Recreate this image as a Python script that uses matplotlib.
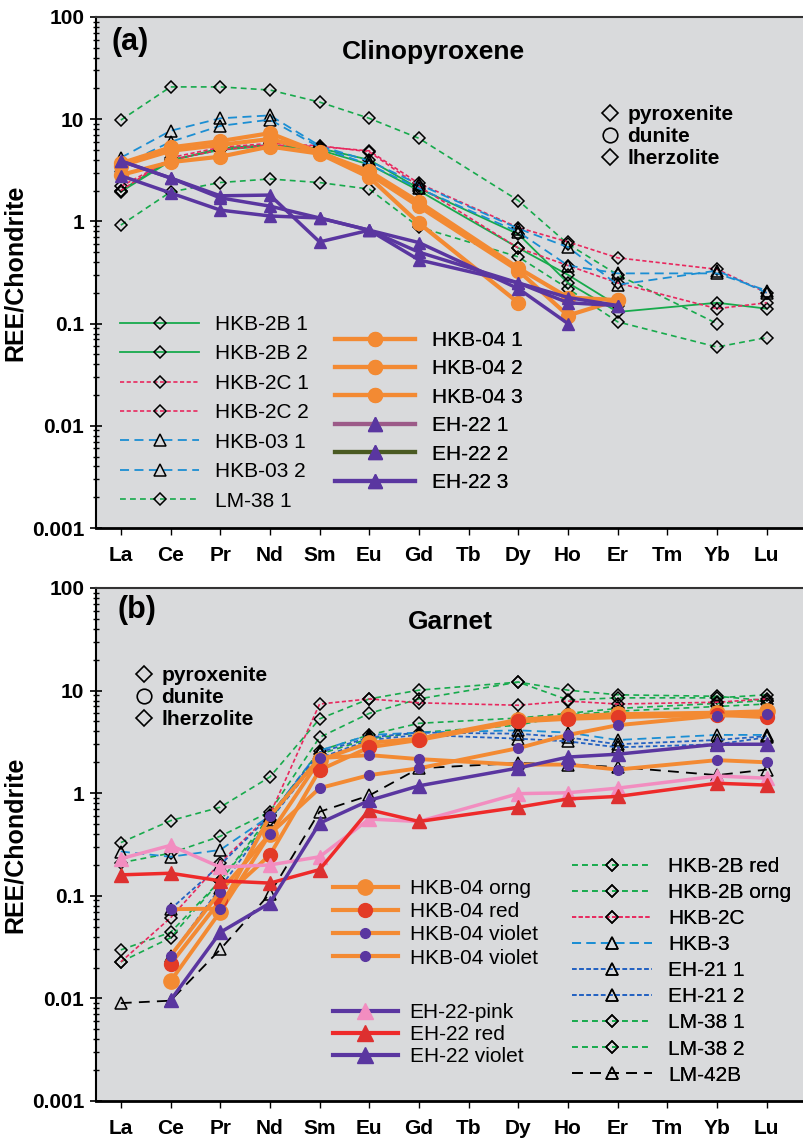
import matplotlib
matplotlib.use('Agg')
import matplotlib.pyplot as plt
from matplotlib.lines import Line2D
from matplotlib.ticker import LogLocator, NullFormatter

plt.rcParams['font.family'] = ['Liberation Sans', 'DejaVu Sans']

N = None
elements = ['La', 'Ce', 'Pr', 'Nd', 'Sm', 'Eu', 'Gd', 'Tb', 'Dy', 'Ho', 'Er', 'Tm', 'Yb', 'Lu']
ytick_vals = [0.001, 0.01, 0.1, 1, 10, 100]
ytick_labels = ['0.001', '0.01', '0.1', '1', '10', '100']
rock_types = ['pyroxenite', 'dunite', 'lherzolite']

# (a) clinopyroxene, chondrite normalised
cpx_hkb2b_1 = [2.0, 4.0, 5.0, 5.5, 5.2, 4.0, 2.1, N, 0.75, 0.25, 0.13, N, 0.16, 0.14]
cpx_hkb2b_2 = [1.95, 3.9, 5.2, 5.6, 5.0, 3.6, 2.0, N, 0.55, 0.3, 0.15, N, N, N]
cpx_hkb2c_1 = [2.2, 4.0, 5.0, 5.6, 5.4, 4.9, 2.35, N, 0.87, 0.63, 0.44, N, 0.34, 0.2]
cpx_hkb2c_2 = [2.0, 4.2, 5.3, 5.8, 5.5, 4.8, 2.2, N, 0.55, 0.37, 0.25, N, 0.14, 0.16]
cpx_hkb03_1 = [4.2, 7.7, 10.2, 10.9, 5.5, 3.9, 2.3, N, 0.85, 0.56, 0.24, N, 0.33, 0.2]
cpx_hkb03_2 = [3.5, 6.0, 8.6, 9.9, 5.3, 3.6, 2.1, N, 0.79, 0.37, 0.31, N, 0.31, 0.21]
cpx_lm38_1 = [9.8, 20.7, 20.7, 19.3, 14.7, 10.2, 6.5, N, 1.6, 0.6, 0.3, N, 0.1, N]
cpx_lm38_2 = [0.92, 1.94, 2.4, 2.6, 2.4, 2.07, 0.88, N, 0.45, 0.22, 0.104, N, 0.059, 0.073]
cpx_hkb04_1 = [3.7, 5.3, 6.1, 7.3, 4.7, 3.1, 1.55, N, 0.35, 0.18, 0.17, N, N, N]
cpx_hkb04_2 = [3.5, 4.9, 5.6, 6.4, 4.8, 2.9, 1.4, N, 0.33, 0.12, 0.17, N, N, N]
cpx_hkb04_3 = [2.85, 3.8, 4.3, 5.4, 4.6, 2.7, 0.96, N, 0.16, N, N, N, N, N]
cpx_eh22_1 = [3.9, 2.66, 1.78, 1.81, 0.63, 0.82, 0.5, N, 0.25, 0.18, 0.15, N, N, N]
cpx_eh22_2 = [3.9, 2.66, 1.7, 1.41, 1.08, 0.82, 0.62, N, 0.22, 0.1, N, N, N, N]
cpx_eh22_3 = [2.8, 1.9, 1.29, 1.13, 1.08, 0.82, 0.42, N, 0.25, 0.16, 0.15, N, N, N]

# (b) garnet, chondrite normalised
grt_hkb04_orng = [N, 0.0147, 0.07, 0.4, 2.1, 3.1, 3.4, N, 5.2, 5.6, 5.9, N, 6.1, 6.3]
grt_hkb04_red = [N, 0.0216, 0.09, 0.25, 1.68, 2.8, 3.3, N, 5.0, 5.3, 5.5, N, 5.8, 5.5]
grt_hkb04_vio1 = [N, 0.074, 0.075, 0.6, 2.2, 2.35, 2.15, N, 1.9, 1.9, 1.7, N, 2.1, 2.0]
grt_hkb04_vio2 = [N, 0.026, 0.11, 0.4, 1.12, 1.5, 1.75, N, 2.75, 3.7, 4.6, N, 5.7, 5.9]
grt_eh22_pink = [0.23, 0.31, 0.19, 0.2, 0.24, 0.56, 0.53, N, 0.99, 1.01, 1.12, N, 1.47, 1.4]
grt_eh22_red = [0.16, 0.166, 0.14, 0.133, 0.18, 0.69, 0.53, N, 0.73, 0.88, 0.93, N, 1.25, 1.2]
grt_eh22_violet = [N, 0.0096, 0.044, 0.085, 0.51, 0.85, 1.18, N, 1.76, 2.25, 2.4, N, 3.0, 3.0]
grt_hkb2b_red = [0.33, 0.54, 0.73, 1.44, 5.3, 8.3, 10.1, N, 12.1, 10.1, 9.1, N, 8.8, 8.0]
grt_hkb2b_orng = [0.21, 0.26, 0.38, 0.66, 3.5, 6.0, 8.3, N, 12.1, 8.1, 8.5, N, 8.5, 9.1]
grt_hkb2c = [0.0227, 0.061, 0.21, 0.62, 7.4, 8.3, 7.6, N, 7.2, 7.9, 7.4, N, 7.7, 8.3]
grt_hkb3 = [0.27, 0.24, 0.28, 0.6, 2.6, 3.7, 3.9, N, 4.1, 3.9, 3.3, N, 3.7, 3.7]
grt_eh21_1 = [N, 0.074, 0.2, 0.6, 2.5, 3.5, 3.9, N, 3.8, 3.5, 3.0, N, 3.3, 3.6]
grt_eh21_2 = [N, 0.026, 0.12, 0.55, 2.2, 3.3, 3.7, N, 3.4, 3.2, 2.8, N, 3.0, 3.5]
grt_lm38_1 = [0.0297, 0.044, 0.14, 0.6, 2.6, 3.7, 4.8, N, 5.4, 6.0, 6.7, N, 7.5, 8.0]
grt_lm38_2 = [0.0227, 0.039, 0.14, 0.55, 2.4, 3.4, 3.9, N, 4.6, 5.8, 6.3, N, 7.0, 7.4]
grt_lm42b = [0.009, 0.0095, 0.03, 0.105, 0.66, 0.95, 1.75, N, 1.97, 1.9, 1.8, N, 1.5, 1.7]

GREEN = '#17aa4c'
CRIMSON = '#e8285e'
BLUE = '#1b8ed3'
DBLUE = '#2462c2'
ORANGE = '#f38a33'
PURPLE = '#5a36a0'
PINK = '#f28dc0'
RED = '#ee2a2a'
BG = '#d9dadc'

diamond = dict(marker='D', markersize=6.5, markerfacecolor='none', markeredgecolor='k', markeredgewidth=1.1)
triangle = dict(marker='^', markersize=8.5, markerfacecolor='none', markeredgecolor='k', markeredgewidth=1.1)


def draw(ax, vals, **kw):
    xs = [i for i, v in enumerate(vals) if v is not None]
    ys = [v for v in vals if v is not None]
    ax.plot(xs, ys, **kw)


def style_axes(ax):
    ax.set_facecolor(BG)
    ax.set_yscale('log')
    ax.set_ylim(0.001, 100)
    ax.set_xlim(-0.5, 13.75)
    ax.set_xticks(range(len(elements)))
    ax.set_xticklabels(elements, fontsize=15, fontweight='bold')
    ax.set_yticks(ytick_vals)
    ax.set_yticklabels(ytick_labels, fontsize=15, fontweight='bold')
    ax.yaxis.set_minor_locator(LogLocator(base=10, subs=range(2, 10)))
    ax.yaxis.set_minor_formatter(NullFormatter())
    ax.tick_params(axis='y', which='major', direction='inout', length=9, width=1.2, pad=4)
    ax.tick_params(axis='y', which='minor', direction='inout', length=5, width=1)
    ax.tick_params(axis='x', direction='out', length=5, width=1, pad=8)
    ax.spines['right'].set_visible(False)
    ax.spines['left'].set_linewidth(1.5)
    ax.spines['bottom'].set_linewidth(2)
    ax.spines['top'].set_linewidth(1.5)
    ax.spines['top'].set_color('#333333')
    ax.set_ylabel('REE/Chondrite', fontsize=18, fontweight='bold')
    ax.yaxis.set_label_coords(-0.098, 0.5)


def put_legend(ax, fig, handles, labels, x_px, y_px, hl, htp, ls, bold=False):
    leg = ax.legend(handles, labels, loc='upper left', bbox_to_anchor=(x_px / 804, 1 - y_px / 1140),
                    bbox_transform=fig.transFigure, frameon=False, numpoints=1,
                    prop={'size': 15, 'weight': 'bold' if bold else 'normal'},
                    handlelength=hl, handletextpad=htp, labelspacing=ls, borderpad=0, borderaxespad=0)
    ax.add_artist(leg)


def rock_key(ax, fig, x_px, y_px):
    # open symbol key for the rock types (diamond / circle / diamond)
    handles = [Line2D([], [], linestyle='none', marker='D', markersize=8.5, markerfacecolor='none',
                      markeredgecolor='k', markeredgewidth=1.2),
               Line2D([], [], linestyle='none', marker='o', markersize=10.5, markerfacecolor='none',
                      markeredgecolor='k', markeredgewidth=1.2),
               Line2D([], [], linestyle='none', marker='D', markersize=8.5, markerfacecolor='none',
                      markeredgecolor='k', markeredgewidth=1.2)]
    put_legend(ax, fig, handles, rock_types, x_px, y_px, 1.0, 0.3, 0.14, bold=True)


fig = plt.figure(figsize=(8.04, 11.4), dpi=100)
ax1 = fig.add_axes([96 / 804, 1 - 528 / 1140, 708 / 804, 511 / 1140])
ax2 = fig.add_axes([96 / 804, 1 - 1101 / 1140, 708 / 804, 513 / 1140])

# ---- panel (a)
dash_g = dict(linestyle='--', dashes=(3.5, 2.5), linewidth=1.2)
dash_r = dict(linestyle='--', dashes=(2.5, 1.5), linewidth=1.2)
dash_b = dict(linestyle='--', dashes=(5, 3), linewidth=1.3)

draw(ax1, cpx_lm38_1, color=GREEN, **dash_g, **diamond)
draw(ax1, cpx_lm38_2, color=GREEN, **dash_g, **diamond)
draw(ax1, cpx_hkb2b_1, color=GREEN, linewidth=1.3, **diamond)
draw(ax1, cpx_hkb2b_2, color=GREEN, linewidth=1.3, **diamond)
draw(ax1, cpx_hkb2c_1, color=CRIMSON, **dash_r, **diamond)
draw(ax1, cpx_hkb2c_2, color=CRIMSON, **dash_r, **diamond)
draw(ax1, cpx_hkb03_1, color=BLUE, **dash_b, **triangle)
draw(ax1, cpx_hkb03_2, color=BLUE, **dash_b, **triangle)
for vals in [cpx_hkb04_1, cpx_hkb04_2, cpx_hkb04_3]:
    draw(ax1, vals, color=ORANGE, linewidth=3, marker='o', markersize=10, zorder=4)
for vals in [cpx_eh22_1, cpx_eh22_2, cpx_eh22_3]:
    draw(ax1, vals, color=PURPLE, linewidth=2.5, marker='^', markersize=9, zorder=5)

style_axes(ax1)
ax1.text(0.022, 0.951, '(a)', transform=ax1.transAxes, fontsize=22, fontweight='bold', va='center')
ax1.text(0.476, 0.931, 'Clinopyroxene', transform=ax1.transAxes, fontsize=19, fontweight='bold',
         ha='center', va='center')
rock_key(ax1, fig, 600, 105)

hA = [Line2D([], [], color=GREEN, linewidth=1.3, **diamond),
      Line2D([], [], color=GREEN, linewidth=1.3, **diamond),
      Line2D([], [], color=CRIMSON, **dash_r, **diamond),
      Line2D([], [], color=CRIMSON, **dash_r, **diamond),
      Line2D([], [], color=BLUE, **dash_b, **triangle),
      Line2D([], [], color=BLUE, **dash_b, **triangle),
      Line2D([], [], color=GREEN, **dash_g, **diamond)]
lA = ['HKB-2B 1', 'HKB-2B 2', 'HKB-2C 1', 'HKB-2C 2', 'HKB-03 1', 'HKB-03 2', 'LM-38 1']
put_legend(ax1, fig, hA, lA, 120, 315, 3.8, 0.75, 0.5)

hA2 = [Line2D([], [], color=ORANGE, linewidth=3, marker='o', markersize=10),
       Line2D([], [], color=ORANGE, linewidth=3, marker='o', markersize=10),
       Line2D([], [], color=ORANGE, linewidth=3, marker='o', markersize=10),
       Line2D([], [], color='#9c5a88', linewidth=3, marker='^', markersize=10, markerfacecolor=PURPLE, markeredgecolor=PURPLE),
       Line2D([], [], color='#4a5a22', linewidth=3, marker='^', markersize=10, markerfacecolor=PURPLE, markeredgecolor=PURPLE),
       Line2D([], [], color=PURPLE, linewidth=3, marker='^', markersize=10)]
lA2 = ['HKB-04 1', 'HKB-04 2', 'HKB-04 3', 'EH-22 1', 'EH-22 2', 'EH-22 3']
put_legend(ax1, fig, hA2, lA2, 335, 331, 3.85, 0.8, 0.45)

# ---- panel (b)
dash_g2 = dict(linestyle='--', dashes=(3.5, 2.5), linewidth=1.2)
dash_db = dict(linestyle='--', dashes=(2.5, 1.5), linewidth=1.3)
dash_k = dict(linestyle='--', dashes=(6, 4), linewidth=1.3)

draw(ax2, grt_hkb2b_red, color=GREEN, **dash_g2, **diamond)
draw(ax2, grt_hkb2b_orng, color=GREEN, **dash_g2, **diamond)
draw(ax2, grt_lm38_1, color=GREEN, **dash_g2, **diamond)
draw(ax2, grt_lm38_2, color=GREEN, **dash_g2, **diamond)
draw(ax2, grt_hkb2c, color=CRIMSON, **dash_r, **diamond)
draw(ax2, grt_hkb3, color=BLUE, **dash_b, **triangle)
draw(ax2, grt_eh21_1, color=DBLUE, **dash_db, **triangle)
draw(ax2, grt_eh21_2, color=DBLUE, **dash_db, **triangle)
draw(ax2, grt_lm42b, color='k', **dash_k, **triangle)
draw(ax2, grt_hkb04_orng, color=ORANGE, linewidth=2.8, marker='o', markersize=11, zorder=4)
draw(ax2, grt_hkb04_red, color=ORANGE, linewidth=2.8, marker='o', markersize=10,
     markerfacecolor='#e33b26', markeredgecolor='#e33b26', zorder=4)
draw(ax2, grt_hkb04_vio1, color=ORANGE, linewidth=2.8, marker='o', markersize=7,
     markerfacecolor=PURPLE, markeredgecolor=PURPLE, zorder=4)
draw(ax2, grt_hkb04_vio2, color=ORANGE, linewidth=2.8, marker='o', markersize=7,
     markerfacecolor=PURPLE, markeredgecolor=PURPLE, zorder=4)
draw(ax2, grt_eh22_pink, color=PINK, linewidth=2.5, marker='^', markersize=10, zorder=5)
draw(ax2, grt_eh22_red, color=RED, linewidth=2.5, marker='^', markersize=10,
     markerfacecolor='#dd3030', markeredgecolor='#dd3030', zorder=5)
draw(ax2, grt_eh22_violet, color=PURPLE, linewidth=2.5, marker='^', markersize=10, zorder=5)

style_axes(ax2)
ax2.text(0.031, 0.957, '(b)', transform=ax2.transAxes, fontsize=22, fontweight='bold', va='center')
ax2.text(0.501, 0.934, 'Garnet', transform=ax2.transAxes, fontsize=19, fontweight='bold',
         ha='center', va='center')
rock_key(ax2, fig, 134, 666)

hB1 = [Line2D([], [], color=ORANGE, linewidth=3, marker='o', markersize=11),
       Line2D([], [], color=ORANGE, linewidth=3, marker='o', markersize=10, markerfacecolor='#e33b26', markeredgecolor='#e33b26'),
       Line2D([], [], color=ORANGE, linewidth=3, marker='o', markersize=7, markerfacecolor=PURPLE, markeredgecolor=PURPLE),
       Line2D([], [], color=ORANGE, linewidth=3, marker='o', markersize=7, markerfacecolor=PURPLE, markeredgecolor=PURPLE)]
lB1 = ['HKB-04 orng', 'HKB-04 red', 'HKB-04 violet', 'HKB-04 violet']
put_legend(ax2, fig, hB1, lB1, 333, 879, 3.1, 0.58, 0.2)

hB2 = [Line2D([], [], color=PURPLE, linewidth=3, marker='^', markersize=11, markerfacecolor=PINK, markeredgecolor=PINK),
       Line2D([], [], color=RED, linewidth=3, marker='^', markersize=11, markerfacecolor='#dd3030', markeredgecolor='#dd3030'),
       Line2D([], [], color=PURPLE, linewidth=3, marker='^', markersize=11)]
lB2 = ['EH-22-pink', 'EH-22 red', 'EH-22 violet']
put_legend(ax2, fig, hB2, lB2, 333, 1003, 3.1, 0.58, 0.15)

hB3 = [Line2D([], [], color=GREEN, **dash_g2, **diamond),
       Line2D([], [], color=GREEN, **dash_g2, **diamond),
       Line2D([], [], color=CRIMSON, **dash_r, **diamond),
       Line2D([], [], color=BLUE, **dash_b, **triangle),
       Line2D([], [], color=DBLUE, **dash_db, **triangle),
       Line2D([], [], color=DBLUE, **dash_db, **triangle),
       Line2D([], [], color=GREEN, **dash_g2, **diamond),
       Line2D([], [], color=GREEN, **dash_g2, **diamond),
       Line2D([], [], color='k', **dash_k, **triangle)]
lB3 = ['HKB-2B red', 'HKB-2B orng', 'HKB-2C', 'HKB-3', 'EH-21 1', 'EH-21 2', 'LM-38 1', 'LM-38 2', 'LM-42B']
put_legend(ax2, fig, hB3, lB3, 572, 857, 3.85, 0.77, 0.34)

fig.savefig('out.png', dpi=100, facecolor='white')
